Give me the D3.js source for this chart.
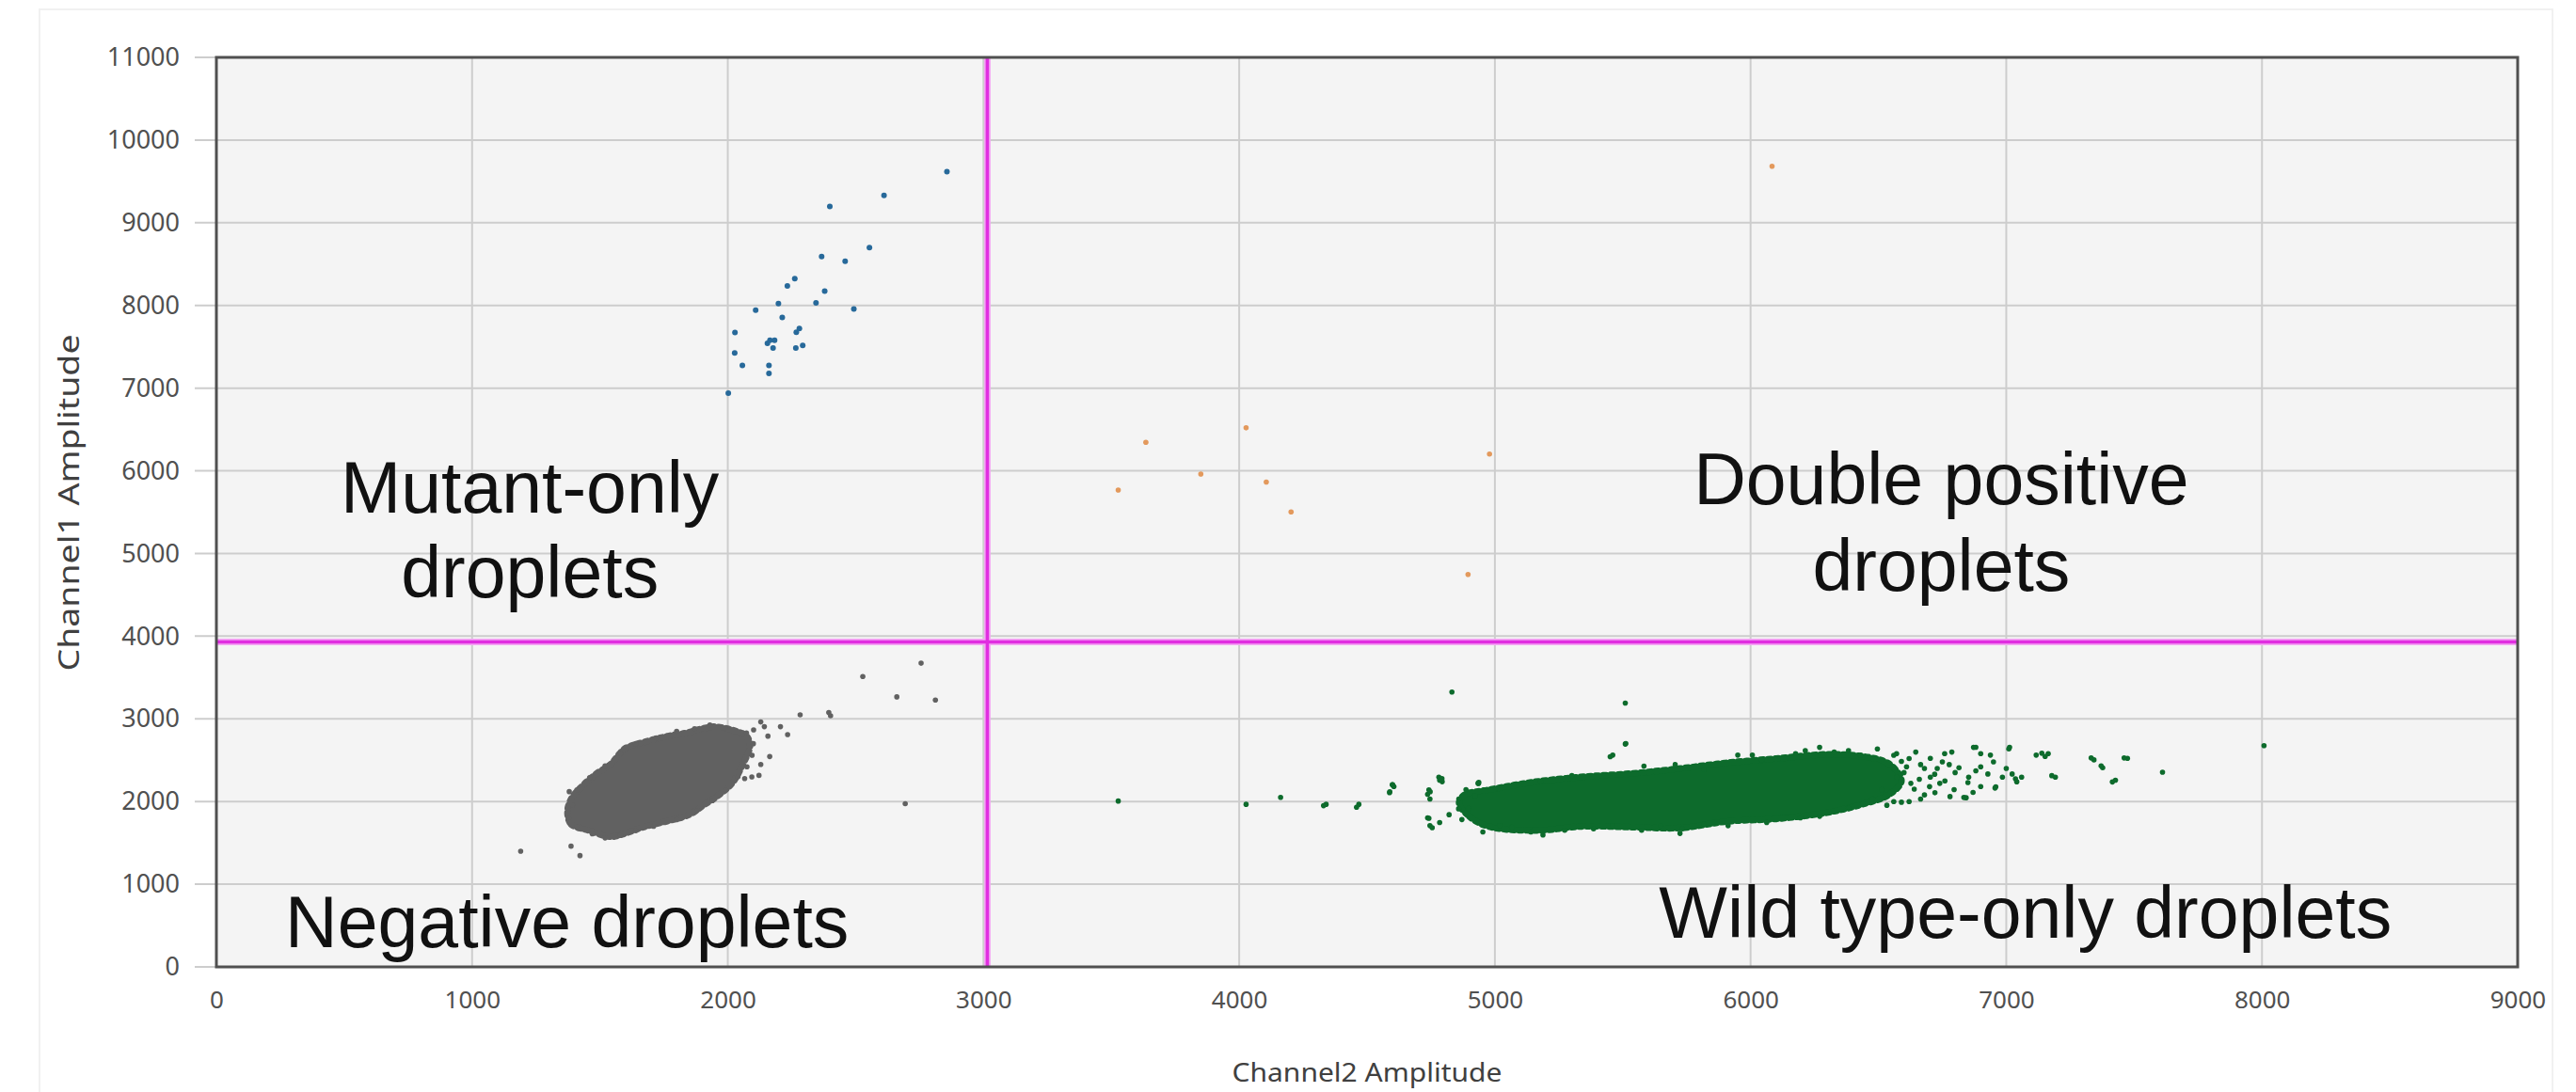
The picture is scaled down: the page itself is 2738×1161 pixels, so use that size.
<!DOCTYPE html>
<html><head><meta charset="utf-8">
<script src="https://cdn.jsdelivr.net/npm/d3@7"></script>
<style>html,body{margin:0;padding:0;background:#fff;} svg{display:block;}</style>
</head><body>
<svg id="chart" width="2738" height="1161"></svg>
<script>
// ---------- DATA ----------
const xTickValues = [0,1000,2000,3000,4000,5000,6000,7000,8000,9000];
const yTickValues = [0,1000,2000,3000,4000,5000,6000,7000,8000,9000,10000,11000];
const xTitle = "Channel2 Amplitude";
const yTitle = "Channel1 Amplitude";
const thresholdX = 3015;
const thresholdY = 3930;

// dense core outline of negative cluster (Channel2, Channel1)
const negativeCore = [[1373,1878],[1387,1726],[1457,1650],[1541,1574],[1597,1612],[1667,1688],[1765,1764],[1849,1840],[1905,1954],[1961,2068],[2017,2221],[2059,2449],[2087,2677],[2073,2791],[2017,2867],[1947,2905],[1905,2886],[1835,2829],[1765,2791],[1667,2715],[1597,2639],[1541,2449],[1485,2335],[1429,2183],[1387,2030]];
const negativePoints = [[1380,2120],[1392,1960],[1376,1800],[1410,1690],[1470,1610],[1520,1560],[1580,1590],[1640,1650],[1710,1700],[1800,1780],[1880,1890],[1940,2010],[1990,2140],[2040,2300],[2075,2420],[2095,2560],[2100,2700],[2060,2830],[1990,2890],[1930,2925],[1870,2880],[1800,2850],[1720,2770],[1640,2700],[1580,2580],[1520,2430],[1460,2290],[1410,2140],
[2756,3673],[2528,3513],[2661,3266],[2812,3228],[2395,3076],[2402,3038],[2283,3049],[2206,2905],[2234,2810],[2129,2962],[2143,2905],[2101,2867],[2157,2791],[2073,2829],[2164,2544],[2129,2449],[2122,2316],[2094,2297],[2066,2278],[2694,1973],[1387,1460],[1422,1346],[1190,1400]];

// dense core outline of wild-type cluster
const wildTypeCore = [[4860,1980],[4900,1820],[4972,1700],[5160,1650],[5348,1700],[5536,1690],[5724,1680],[5912,1760],[6101,1790],[6289,1860],[6430,1960],[6540,2080],[6590,2250],[6540,2460],[6430,2550],[6289,2570],[6101,2520],[5912,2470],[5724,2400],[5536,2340],[5348,2300],[5160,2240],[4972,2140],[4880,2080]];
const wildTypePoints = [[4605,2182],[4737,2087],[4746,2030],[4784,2258],[4737,1803],[4746,1708],[4784,1746],[4821,1841],[4887,2144],[4934,2220],[4953,1633],[5019,1708],[5141,1633],[5188,1595],[5574,1652],[5724,1614],[5733,1670],[5179,2239],[5301,2314],[5461,2561],[5512,2701],[5583,2428],[5705,2447],[5818,2390],[5950,2561],[6007,2561],[6044,2504],[6176,2580],[6214,2617],[6270,2655],[6327,2598],[6383,2617],[6430,2561],[6496,2636],[6571,2580],[6646,2598],[6703,2523],[6759,2580],[6787,2598],[6872,2655],[6900,2580],[6938,2561],[7013,2655],[7117,2561],[7164,2580],[7192,2295],[7343,2504],[7377,2409],[7427,2258],[7474,2523],
[6477,2030],[6533,1955],[6590,1992],[6665,2030],[6721,2106],[6740,2220],[6796,2144],[6834,2049],[6853,2295],[6881,2371],[6900,2182],[6928,2333],[6956,2163],[6985,2295],[7023,2333],[7041,2239],[7060,2295],[6777,2447],[6815,2409],[6665,2447],[6590,2485],[6703,2295],[6627,2220],[6571,2295],[6514,2144],[6439,1973],[6383,1917],[6270,1822],[6195,1803],[6063,1746],[5912,1708],[5818,1727],[5649,1708],[5461,1708],[5386,1670],[5273,1652],[5066,1689],[4897,1917],[4859,2030],
[6600,2350],[6640,2150],[6680,2400],[6720,2330],[6760,2250],[6800,2350],[6620,2520],[6560,2560],[6700,2180],[6750,2480],[6850,2230],[6900,2420],[6950,2480],[7000,2400],[6870,2110],[6780,2060],[6680,2080],[6620,2000],[6560,2000],[6610,2420],[6660,2270],[6730,2400],
[4832,3324],[5510,3191],[5510,2695],[5451,2542],[8008,2676],[7611,2355],[7461,2527],[7332,2527],[7371,2431],[7415,2237],[7139,2584],[7152,2546],[7178,2313],[7010,2637],[6881,2656],[7036,2275],[6959,2179],[6843,2046],[4459,1931],[4330,1950],[4600,2202],[4588,2107],[4781,2294],[4794,2240],[4742,2141],[4742,1798],[4755,1683],[4936,2218],[4923,2069],[4858,1912],[4871,1782],[3527,2006],[4027,1966],[4162,2051],[4340,1966],[4468,1966],[4599,2203],[4589,2118],[4793,2277],[4747,2118],[4937,2232]];

const mutantPoints = [[2857,9618],[2611,9332],[2399,9198],[2554,8698],[2367,8592],[2459,8534],[2262,8324],[2233,8237],[2379,8172],[2198,8023],[2345,8031],[2109,7943],[2493,7958],[2213,7855],[2028,7672],[2280,7721],[2268,7676],[2165,7580],[2183,7580],[2177,7485],[2155,7542],[2293,7515],[2266,7485],[2027,7424],[2057,7275],[2161,7275],[2161,7179],[2002,6939]];

const doublePoints = [[6084,9684],[3527,5768],[3635,6345],[3850,5960],[4027,6520],[4106,5864],[4203,5503],[4979,6203],[4895,4746]];

const labelMutant = ["Mutant-only","droplets"];
const labelDouble = ["Double positive","droplets"];
const labelNegative = "Negative droplets";
const labelWild = "Wild type-only droplets";

// ---------- DRAW ----------
const svg = d3.select("#chart");
const L = 230, R = 2676, T = 61, B = 1028;
const x = d3.scaleLinear().domain([0, 9000]).range([L, R]);
const y = d3.scaleLinear().domain([0, 11000]).range([B, T]);

// faint outer frame
svg.append("path").attr("d", `M42,${1161} V10 H2713 V${1161}`).attr("fill","none").attr("stroke","#f1f1f1").attr("stroke-width",2);

// plot background
svg.append("rect").attr("x", L).attr("y", T).attr("width", R-L).attr("height", B-T).attr("fill", "#f4f4f4");

// gridlines
svg.append("g").selectAll("line").data(xTickValues).join("line")
  .attr("x1", d => x(d)).attr("x2", d => x(d)).attr("y1", T).attr("y2", B)
  .attr("stroke", "#cdcdcd").attr("stroke-width", 2);
svg.append("g").selectAll("line").data(yTickValues).join("line")
  .attr("x1", L - 23).attr("x2", R).attr("y1", d => y(d)).attr("y2", d => y(d))
  .attr("stroke", "#cdcdcd").attr("stroke-width", 2);

// axes labels via d3 axes
const yAxis = d3.axisLeft(y).tickValues(yTickValues).tickSize(0).tickPadding(39).tickFormat(d3.format("d"));
const gy = svg.append("g").attr("transform", `translate(${L},0)`).call(yAxis);
gy.select(".domain").remove();
gy.selectAll("text").attr("font-family", "'Noto Sans', sans-serif").attr("font-size", 27).attr("fill", "#505050");

const xAxis = d3.axisBottom(x).tickValues(xTickValues).tickSize(0).tickPadding(26).tickFormat(d3.format("d"));
const gx = svg.append("g").attr("transform", `translate(0,${B})`).call(xAxis);
gx.select(".domain").remove();
gx.selectAll("text").attr("font-family", "'Noto Sans', sans-serif").attr("font-size", 26).attr("fill", "#505050");

// axis titles
svg.append("text").text(xTitle).attr("x", (L+R)/2).attr("y", 1150)
  .attr("text-anchor","middle").attr("font-family","'Noto Sans', sans-serif").attr("font-size",28)
  .attr("fill","#404040").attr("textLength",287).attr("lengthAdjust","spacingAndGlyphs");
svg.append("text").text(yTitle)
  .attr("transform", `translate(84,${(T+B)/2 - 10}) rotate(-90)`)
  .attr("text-anchor","middle").attr("font-family","'Noto Sans', sans-serif").attr("font-size",31)
  .attr("fill","#404040").attr("textLength",358).attr("lengthAdjust","spacingAndGlyphs");

// threshold lines
svg.append("line").attr("x1", L).attr("x2", R).attr("y1", y(thresholdY)).attr("y2", y(thresholdY))
  .attr("stroke","#f4a6f4").attr("stroke-width",7);
svg.append("line").attr("x1", x(thresholdX)).attr("x2", x(thresholdX)).attr("y1", T).attr("y2", B)
  .attr("stroke","#f4a6f4").attr("stroke-width",7);
svg.append("line").attr("x1", L).attr("x2", R).attr("y1", y(thresholdY)).attr("y2", y(thresholdY))
  .attr("stroke","#e02ee0").attr("stroke-width",3.5);
svg.append("line").attr("x1", x(thresholdX)).attr("x2", x(thresholdX)).attr("y1", T).attr("y2", B)
  .attr("stroke","#e02ee0").attr("stroke-width",3.5);

// clusters
const outline = d3.line().x(d => x(d[0])).y(d => y(d[1])).curve(d3.curveCatmullRomClosed);
function drawCluster(core, pts, color, r) {
  if (core) {
    svg.append("path").attr("d", outline(core)).attr("fill", color).attr("stroke", "none");
    // rough, speckled edge of the dense core
    svg.append("path").attr("d", outline(core)).attr("fill", "none").attr("stroke", color)
      .attr("stroke-width", 7).attr("stroke-dasharray", "3 5").attr("stroke-linecap", "round");
  }
  svg.append("g").selectAll("circle").data(pts).join("circle")
    .attr("cx", d => x(d[0])).attr("cy", d => y(d[1])).attr("r", r).attr("fill", color);
}
drawCluster(negativeCore, negativePoints, "#616161", 2.8);
drawCluster(wildTypeCore, wildTypePoints, "#0d6b2c", 2.8);
drawCluster(null, mutantPoints, "#27699a", 3);
drawCluster(null, doublePoints, "#e3995c", 2.8);

// plot border
svg.append("rect").attr("x", L).attr("y", T).attr("width", R-L).attr("height", B-T)
  .attr("fill","none").attr("stroke","#505050").attr("stroke-width",3);

// quadrant labels
const lf = "'Liberation Sans', Arial, sans-serif";
function label(lines, cx, baseline, step, anchor) {
  lines.forEach((t, i) => {
    svg.append("text").text(t).attr("x", cx).attr("y", baseline + i*step)
      .attr("text-anchor", anchor).attr("font-family", lf).attr("font-size", 77).attr("fill", "#111");
  });
}
label(labelMutant, x(1226), y(5489), 90, "middle");
label(labelDouble, x(6746), y(5602), 92, "middle");
label([labelNegative], x(269), y(239), 0, "start");
label([labelWild], x(5642), y(352), 0, "start");
</script>
</body></html>
